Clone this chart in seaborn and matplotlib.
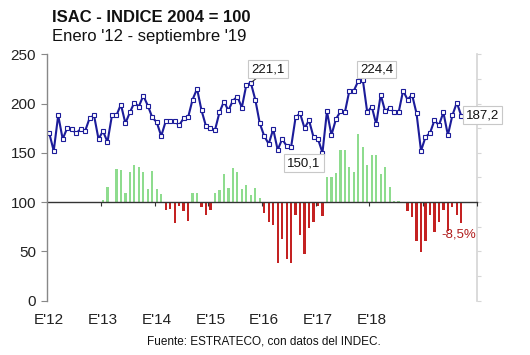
import numpy as np
import pandas as pd
import matplotlib
matplotlib.use('Agg')
import matplotlib.pyplot as plt
import seaborn as sns

# ---- data (Enero 2012 - septiembre 2019) ----
isac = [170, 152, 188, 164, 175, 174, 170, 174, 172, 185,
        188, 164, 172, 161, 188, 188, 199, 180, 191, 201,
        197, 208, 198, 186, 181, 167, 182, 182, 182, 178,
        185, 186, 204, 215, 193, 177, 175, 173, 191, 202,
        193, 203, 207, 196, 219, 221.1, 204, 180, 167, 159,
        174, 153, 164, 157, 156, 186, 190, 175, 183, 166,
        164, 150.1, 192, 168, 184, 192, 191, 213, 213, 223,
        224.4, 191, 197, 179, 209, 192, 196, 191, 191, 213,
        204, 209, 190, 152, 166, 170, 183, 178, 191, 168,
        188, 201, 187.2]

# variacion interanual (%), desde enero 2013
var_pct = [0.8, 6.0, -0.3, 13.6, 13.0, 3.8, 12.2, 15.2, 14.1, 12.2,
           5.4, 12.7, 5.4, 3.3, -3.1, -3.0, -8.4, -1.4, -3.5, -7.6,
           3.8, 3.7, -2.2, -5.2, -3.3, 3.5, 4.9, 11.2, 5.6, 13.9,
           12.4, 5.4, 6.8, 2.7, 5.7, 1.6, -4.4, -8.2, -9.3, -24.6,
           -14.8, -23.3, -24.6, -5.2, -13.3, -21.0, -10.6, -7.9, -1.5, -5.7,
           10.3, 10.3, 11.8, 21.2, 21.2, 14.4, 12.4, 27.8, 22.3, 15.2,
           19.3, 19.3, 11.4, 14.1, 6.3, 0.5, 0.5, 0.0, -3.7, -6.1,
           -15.9, -20.4, -15.6, -5.2, -12.2, -8.2, -3.1, -11.6, -1.8, -5.4, -8.5]

xlabels = ["E'12", "E'13", "E'14", "E'15", "E'16", "E'17", "E'18"]
title = "ISAC - INDICE 2004 = 100"
subtitle = "Enero '12 - septiembre '19"
source = "Fuente: ESTRATECO, con datos del INDEC."

sns.set_theme(style='white')
plt.rcParams['font.family'] = ['Liberation Sans', 'DejaVu Sans']

W, H = 530, 355
fig = plt.figure(figsize=(W / 100, H / 100), dpi=100)
ax = fig.add_axes([47 / W, 1 - 300.6 / H, 430 / W, 246.3 / H])
ax2 = ax.twinx()

n_cat = 96  # eje de categorias: ene-2012 a dic-2019
months = np.arange(len(isac))
df_line = pd.DataFrame({'mes': months, 'isac': isac})
df_bar = pd.DataFrame({'mes': months[12:12 + len(var_pct)], 'var': var_pct})
df_bar['signo'] = np.where(df_bar['var'] >= 0, 'pos', 'neg')

blue = '#1c1c9a'
sns.barplot(data=df_bar, x='mes', y='var', hue='signo',
            palette={'pos': '#8edc8e', 'neg': '#c42222'},
            native_scale=True, dodge=False, width=0.5, errorbar=None,
            legend=False, saturation=1, linewidth=0, edgecolor='none', ax=ax2)
sns.lineplot(data=df_line, x='mes', y='isac', color=blue, lw=1.5,
             marker='s', markersize=3.2, markerfacecolor='white',
             markeredgecolor=blue, markeredgewidth=0.8, ax=ax)

ax.set_zorder(ax2.get_zorder() + 1)
ax.patch.set_visible(False)

ax.set_xlim(-0.5, n_cat - 0.5)
ax.set_ylim(0, 250)
ax2.set_ylim(-40, 60)

ax.set_xticks(np.arange(0, 73, 12))
ax.set_xticklabels(xlabels)
ax.set_yticks(np.arange(0, 251, 50))
ax.set_xlabel('')
ax.set_ylabel('')
ax2.set_xlabel('')
ax2.set_ylabel('')

ax.tick_params(axis='y', left=True, length=4, width=0.8, color='#888888',
               labelsize=11, pad=4, labelcolor='#222222')
ax.tick_params(axis='x', bottom=True, length=0, labelsize=11, pad=9,
               labelcolor='#222222')
for s in ['top', 'right', 'bottom']:
    ax.spines[s].set_visible(False)
ax.spines['left'].set_color('#888888')
ax.spines['left'].set_linewidth(1.0)

ax2.set_yticks(np.arange(-40, 61, 10))
ax2.tick_params(axis='y', right=True, length=3, width=0.8, color='#d6d6d6',
                labelright=False)
for s in ['top', 'left', 'bottom']:
    ax2.spines[s].set_visible(False)
ax2.spines['right'].set_color('#d6d6d6')

# eje de la variacion (linea en 100)
sec = ax.secondary_xaxis((100 - 0) / (250 - 0))
sec.set_xticks(np.arange(11.5, n_cat, 12))
sec.tick_params(axis='x', bottom=True, length=3, width=0.8, color='#333333',
                labelbottom=False, direction='out')
sec.spines['bottom'].set_color('#333333')
sec.spines['bottom'].set_linewidth(1.0)

box = dict(boxstyle='square,pad=0.22', fc='white', ec='#c8c8c8', lw=0.8)

def fmt(v):
    return f"{v:.1f}".replace('.', ',')

i1 = int(np.argmax(isac[:60]))
i2 = int(np.argmax(isac))
i3 = int(np.argmin(isac[55:])) + 55
i4 = len(isac) - 1
ax.annotate(fmt(isac[i1]), xy=(i1, isac[i1]), xytext=(12.4, 9.7),
            textcoords='offset points', ha='center', va='center', fontsize=9.5,
            color='#111111', bbox=box,
            arrowprops=dict(arrowstyle='-', color='#333333', lw=0.8,
                            shrinkA=0, shrinkB=1))
ax.annotate(fmt(isac[i2]), xy=(i2, isac[i2]), xytext=(10, 7.2),
            textcoords='offset points', ha='center', va='center', fontsize=9.5,
            color='#111111', bbox=box)
ax.annotate(fmt(isac[i3]), xy=(i3, isac[i3]), xytext=(-13.3, -7.6),
            textcoords='offset points', ha='center', va='center', fontsize=9.5,
            color='#111111', bbox=box)
ax.annotate(fmt(isac[i4]), xy=(i4, isac[i4]), xytext=(15, 0.6),
            textcoords='offset points', ha='center', va='center', fontsize=9.5,
            color='#111111', bbox=box)
ax2.annotate(fmt(var_pct[-1]) + '%', xy=(i4, var_pct[-1]), xytext=(-1.7, -8.2),
             textcoords='offset points', ha='center', va='center', fontsize=9.5,
             color='#b01c1c')

fig.text(52 / W, 1 - 17 / H, title, ha='left', va='center', fontsize=12,
         fontweight='bold', color='#111111')
fig.text(52 / W, 1 - 37 / H, subtitle, ha='left', va='center', fontsize=12,
         color='#111111')
fig.text(264 / W, 1 - 342 / H, source, ha='center', va='center', fontsize=8.5,
         color='#111111')

fig.savefig('out.png', dpi=100)
